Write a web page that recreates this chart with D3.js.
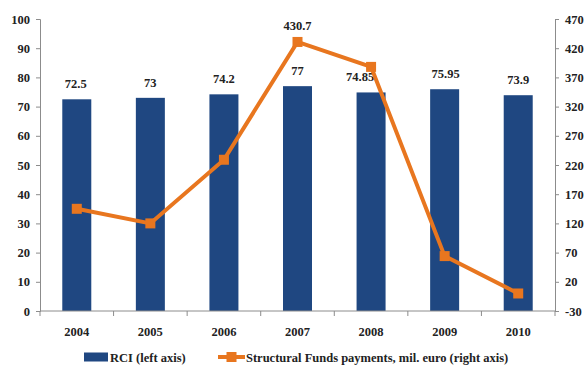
<!DOCTYPE html>
<html><head><meta charset="utf-8">
<script src="https://cdn.jsdelivr.net/npm/d3@7"></script>
<style>body{margin:0;background:#fff}svg{display:block}</style>
</head><body>
<svg id="c" width="586" height="365"></svg>
<script>
const years = ["2004","2005","2006","2007","2008","2009","2010"];
const rci = [72.5, 73, 74.2, 77, 74.85, 75.95, 73.9];
const rciLabels = ["72.5","73","74.2","77","74.85","75.95","73.9"];
const funds = [145, 120, 229, 430.7, 388, 64, 0];
const leftTicks = [0,10,20,30,40,50,60,70,80,90,100];
const rightTicks = [-30,20,70,120,170,220,270,320,370,420,470];

const blue = "#1f4781", orange = "#e8761f", axisCol = "#8c8c8c";
const font = "'Liberation Serif','Times New Roman',serif";
const svg = d3.select("#c");
const L = 40, R = 555, T = 19, B = 311;

const xb = d3.scaleBand().domain(years).range([L, R]);
const yL = d3.scaleLinear().domain([0, 100]).range([B, T]);
const yR = d3.scaleLinear().domain([-30, 470]).range([B, T]);
const cx = d => xb(d) + xb.bandwidth()/2;

// bars
svg.selectAll("rect.bar").data(years).enter().append("rect")
  .attr("x", d => cx(d) - 14.5)
  .attr("width", 29)
  .attr("y", (d,i) => yL(rci[i]))
  .attr("height", (d,i) => B - yL(rci[i]))
  .attr("fill", blue);

// axes
function styleAxis(g){
  g.selectAll("path,line").attr("stroke", axisCol);
  g.selectAll("text").attr("font-family", font).attr("font-weight","bold").attr("font-size","12.5px").attr("fill","#222");
}
svg.append("g").attr("transform",`translate(${L},0)`)
  .call(d3.axisLeft(yL).tickValues(leftTicks).tickFormat(d=>String(d)).tickSize(4).tickSizeOuter(4).tickPadding(6)).call(styleAxis);
svg.append("g").attr("transform",`translate(${R},0)`)
  .call(d3.axisRight(yR).tickValues(rightTicks).tickFormat(d=>String(d)).tickSize(4).tickSizeOuter(4).tickPadding(6)).call(styleAxis);
const xg = svg.append("g").attr("transform",`translate(0,${B})`)
  .call(d3.axisBottom(xb).tickSize(0).tickPadding(16)).call(styleAxis);
xg.select("path").attr("d", `M${L},0H${R}`);
xg.selectAll("line.bt").data(years.concat(["end"])).enter().append("line")
  .attr("x1",(d,i)=>L + i*xb.bandwidth()).attr("x2",(d,i)=>L + i*xb.bandwidth())
  .attr("y1",0).attr("y2",5).attr("stroke",axisCol);

// bar labels (2008 label sits left of the line in the original)
const labelShift = [-1, 0, 0, 0, -11, 1, 0];
svg.selectAll("text.bl").data(years).enter().append("text")
  .attr("x", (d,i) => cx(d) + labelShift[i])
  .attr("y", (d,i) => yL(rci[i]) - 11)
  .attr("text-anchor","middle").attr("font-family",font).attr("font-weight","bold")
  .attr("font-size","12.5px").attr("fill","#222")
  .text((d,i) => rciLabels[i]);

// line
svg.append("path").datum(years)
  .attr("d", d3.line().x(cx).y((d,i)=>yR(funds[i])))
  .attr("fill","none").attr("stroke",orange).attr("stroke-width",4);
svg.selectAll("rect.m").data(years).enter().append("rect")
  .attr("x", d => cx(d) - 5).attr("y",(d,i)=>yR(funds[i]) - 5)
  .attr("width",10).attr("height",10).attr("fill",orange);
svg.append("text").attr("x", cx("2007")).attr("y", yR(430.7) - 12)
  .attr("text-anchor","middle").attr("font-family",font).attr("font-weight","bold")
  .attr("font-size","12.5px").attr("fill","#222").text("430.7");

// legend
const ly = 357;
svg.append("rect").attr("x",84).attr("y",ly-4.5).attr("width",24).attr("height",9).attr("fill",blue);
svg.append("text").attr("x",110).attr("y",ly+5).attr("font-family",font).attr("font-weight","bold")
  .attr("font-size","12.5px").attr("fill","#222").text("RCI (left axis)");
svg.append("line").attr("x1",218).attr("x2",245).attr("y1",ly).attr("y2",ly).attr("stroke",orange).attr("stroke-width",4);
svg.append("rect").attr("x",226.5).attr("y",ly-5).attr("width",10).attr("height",10).attr("fill",orange);
svg.append("text").attr("x",246).attr("y",ly+5).attr("font-family",font).attr("font-weight","bold")
  .attr("font-size","12.5px").attr("fill","#222").text("Structural Funds payments, mil. euro (right axis)");
</script>
</body></html>
